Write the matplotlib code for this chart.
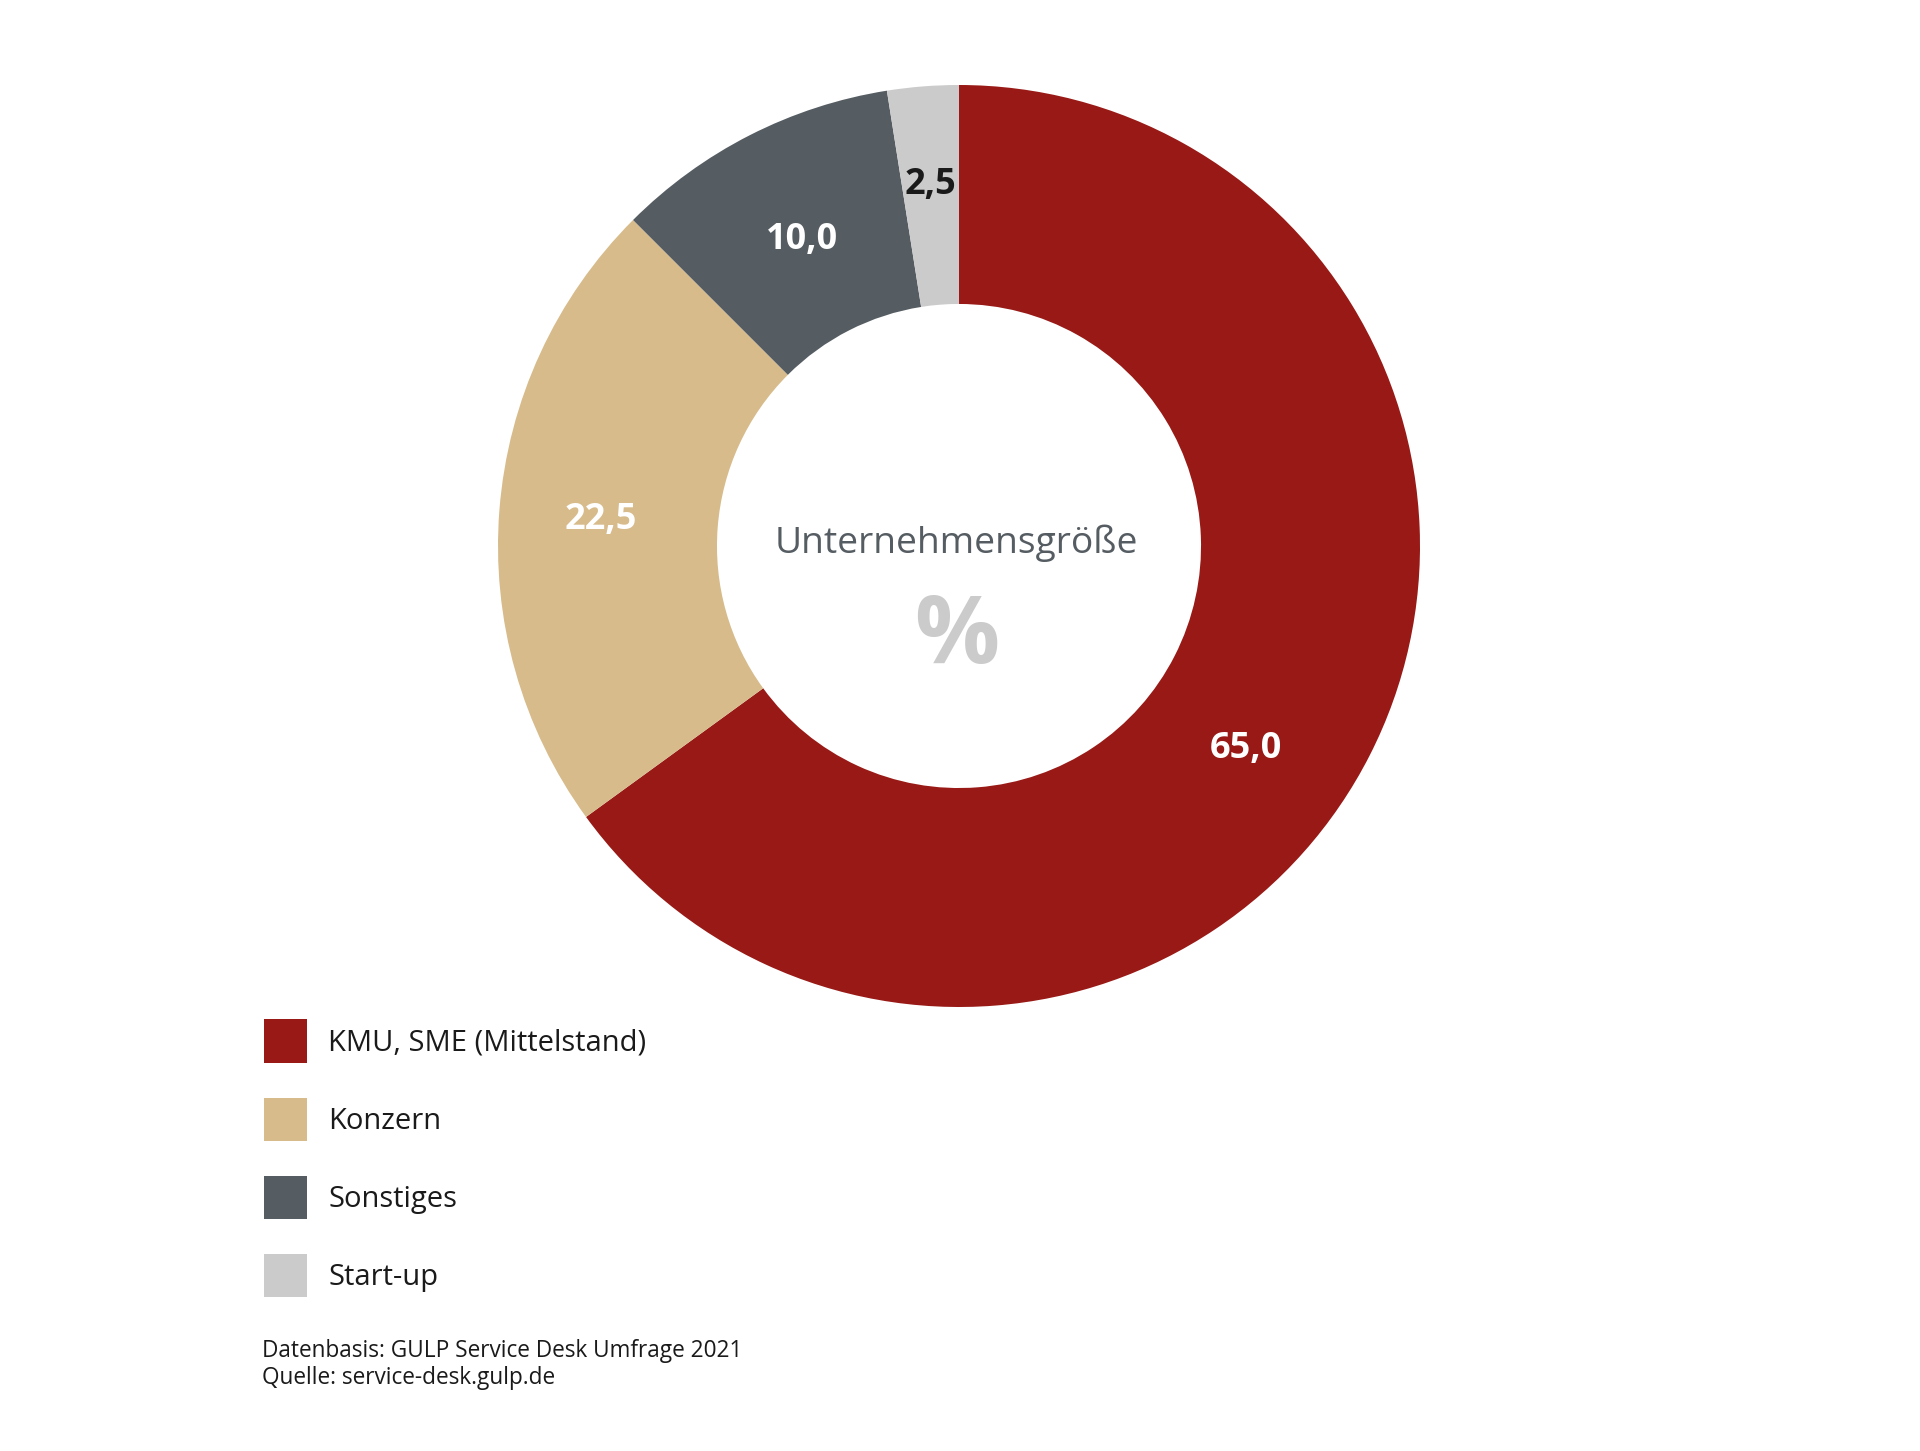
import numpy as np
import matplotlib
matplotlib.use("Agg")
import matplotlib.pyplot as plt
from matplotlib.patches import Patch


# =========================
# DATA
# =========================

categories = ["KMU, SME (Mittelstand)", "Konzern", "Sonstiges", "Start-up"]
values = [65.0, 22.5, 10.0, 2.5]
value_labels = ["65,0", "22,5", "10,0", "2,5"]
colors = ["#981915", "#d7bb8b", "#555d63", "#cccbcc"]
label_colors = ["white", "white", "white", "#1a1a1a"]

center_title = "Unternehmensgröße"
center_unit = "%"
source_lines = ["Datenbasis: GULP Service Desk Umfrage 2021", "Quelle: service-desk.gulp.de"]


# =========================
# LAYOUT
# =========================

W, H = 1920, 1451
plt.rcParams["font.family"] = ["Open Sans", "DejaVu Sans"]

fig = plt.figure(figsize=(W / 100, H / 100), dpi=100)
fig.patch.set_facecolor("white")

cx, cy, R = 959, 546, 461
ax = fig.add_axes([(cx - R) / W, (H - cy - R) / H, 2 * R / W, 2 * R / H])

wedges, _ = ax.pie(
    values,
    colors=colors,
    startangle=90,
    counterclock=False,
    radius=1.0,
    wedgeprops=dict(width=0.475, linewidth=0),
)
ax.set_xlim(-1, 1)
ax.set_ylim(-1, 1)
ax.set_aspect("equal")
ax.axis("off")

# value labels, near mid radius of each wedge
label_shift = [-8, 0, 0, 0]
label_r = [0.76, 0.78, 0.75, 0.79]
for w, txt, col, shift, r in zip(wedges, value_labels, label_colors, label_shift, label_r):
    ang = np.deg2rad((w.theta1 + w.theta2) / 2 + shift)
    ax.text(r * np.cos(ang), r * np.sin(ang) - 0.005, txt, ha="center", va="center",
            fontsize=26, fontweight="bold", color=col)

ax.text(-0.005, 0.006, center_title, ha="center", va="center", fontsize=26.8, color="#555d63")
ax.text(-0.005, -0.2, center_unit, ha="center", va="center", fontsize=68,
        fontweight="bold", color="#cccbcc")

# legend
handles = [Patch(facecolor=c, edgecolor="none") for c in colors]
fig.legend(
    handles, categories,
    loc="upper left",
    bbox_to_anchor=(263.5 / W, (H - 1019.5) / H),
    frameon=False,
    fontsize=21,
    labelcolor="#1a1a1a",
    handlelength=1.5,
    handleheight=1.9,
    handletextpad=0.72,
    labelspacing=1.2,
    borderpad=0,
    borderaxespad=0,
)

fig.text(262 / W, 1 - 1351 / H, source_lines[0], ha="left", va="center", fontsize=16.3, color="#1a1a1a")
fig.text(262 / W, 1 - 1378 / H, source_lines[1], ha="left", va="center", fontsize=16.3, color="#1a1a1a")

fig.savefig("out.png", dpi=100, facecolor="white")
